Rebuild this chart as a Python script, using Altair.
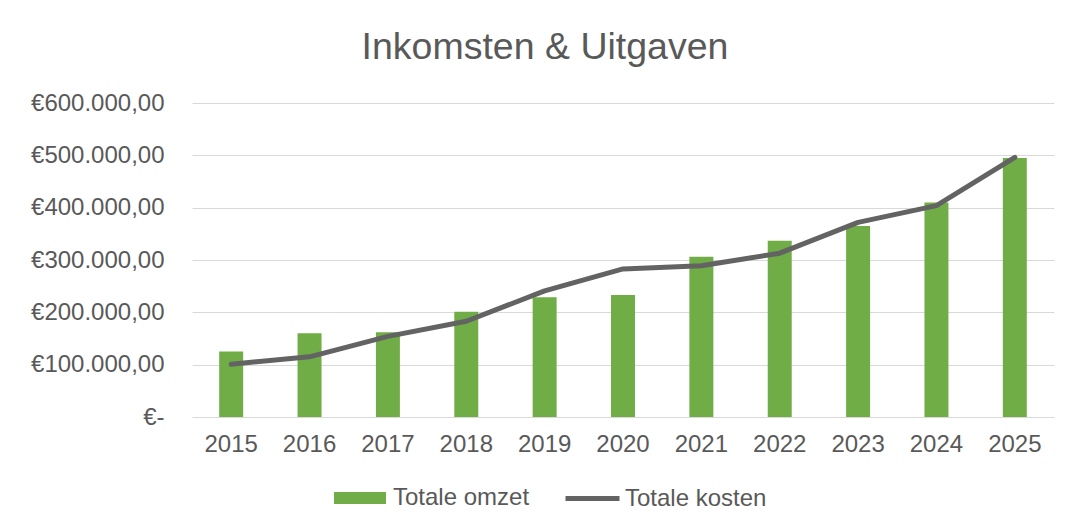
import altair as alt
import pandas as pd

years = ["2015", "2016", "2017", "2018", "2019", "2020", "2021", "2022", "2023", "2024", "2025"]
omzet = [125000, 160000, 162000, 201000, 229000, 233000, 306000, 337000, 365000, 410000, 495000]
kosten = [101000, 115000, 154000, 183000, 241000, 283000, 289000, 313000, 372000, 404000, 496000]
y_ticks = [0, 100000, 200000, 300000, 400000, 500000, 600000]

df = pd.DataFrame({"year": years, "omzet": omzet, "kosten": kosten})

FONT = "Liberation Sans"
TXT = "#595959"
GREEN = "#70AD47"
GRAY = "#636363"
FS = 24

x_enc = alt.X(
    "year:N",
    title=None,
    scale=alt.Scale(paddingInner=0.694, paddingOuter=0.347),
    axis=alt.Axis(labelAngle=0, ticks=False, domain=False, grid=False, labelPadding=15,
                  labelFontSize=FS, labelFont=FONT, labelColor=TXT),
)

y_axis = alt.Axis(
    values=y_ticks,
    title=None,
    ticks=False,
    domain=False,
    labelPadding=28,
    labelFontSize=FS,
    labelFont=FONT,
    labelColor=TXT,
    gridColor="#D9D9D9",
    gridWidth=1.2,
    labelExpr="datum.value == 0 ? '€-\u00a0\u00a0' : '€' + replace(replace(replace(format(datum.value, ',.2f'), /,/g, '#'), /\\./g, ','), /#/g, '.')",
)

base = alt.Chart(df)

bars = base.mark_bar(color=GREEN).transform_calculate(s1="'Totale omzet'").encode(
    x=x_enc,
    y=alt.Y("omzet:Q", scale=alt.Scale(domain=[0, 600000], nice=False), axis=y_axis),
    fill=alt.Fill(
        "s1:N",
        scale=alt.Scale(domain=["Totale omzet"], range=[GREEN]),
        legend=alt.Legend(
            orient="none", legendX=142, legendY=369, title=None,
            symbolType="M-1,-0.23H1V0.23H-1Z", symbolSize=2704,
            symbolStrokeWidth=0, labelFontSize=FS, labelFont=FONT,
            labelColor=TXT, labelOffset=7,
        ),
    ),
)

line = base.mark_line(strokeWidth=5, strokeCap="round", strokeJoin="round").transform_calculate(
    s2="'Totale kosten'"
).encode(
    x=x_enc,
    y=alt.Y("kosten:Q"),
    stroke=alt.Stroke(
        "s2:N",
        scale=alt.Scale(domain=["Totale kosten"], range=[GRAY]),
        legend=alt.Legend(
            orient="none", legendX=371, legendY=366, title=None,
            symbolType="stroke", symbolSize=2916, symbolStrokeWidth=5,
            labelFontSize=FS, labelFont=FONT, labelColor=TXT, labelOffset=3,
        ),
    ),
)

chart = (
    alt.layer(bars, line)
    .properties(
        width=862,
        height=314,
        autosize=alt.AutoSizeParams(type="none"),
        padding={"left": 184, "top": 95, "right": 12, "bottom": 106},
        view=alt.ViewBackground(stroke="transparent", strokeWidth=0),
        title=alt.TitleParams(
            "Inkomsten & Uitgaven",
            fontSize=37.5,
            font=FONT,
            color=TXT,
            fontWeight="normal",
            anchor="middle",
            dx=-78,
            dy=45,
            baseline="alphabetic",
            offset=40,
        ),
    )
    .configure_view(strokeWidth=0, stroke="transparent")
    .configure(background="white")
)

chart.save("out.html", embed_options={"renderer": "svg", "actions": False})
